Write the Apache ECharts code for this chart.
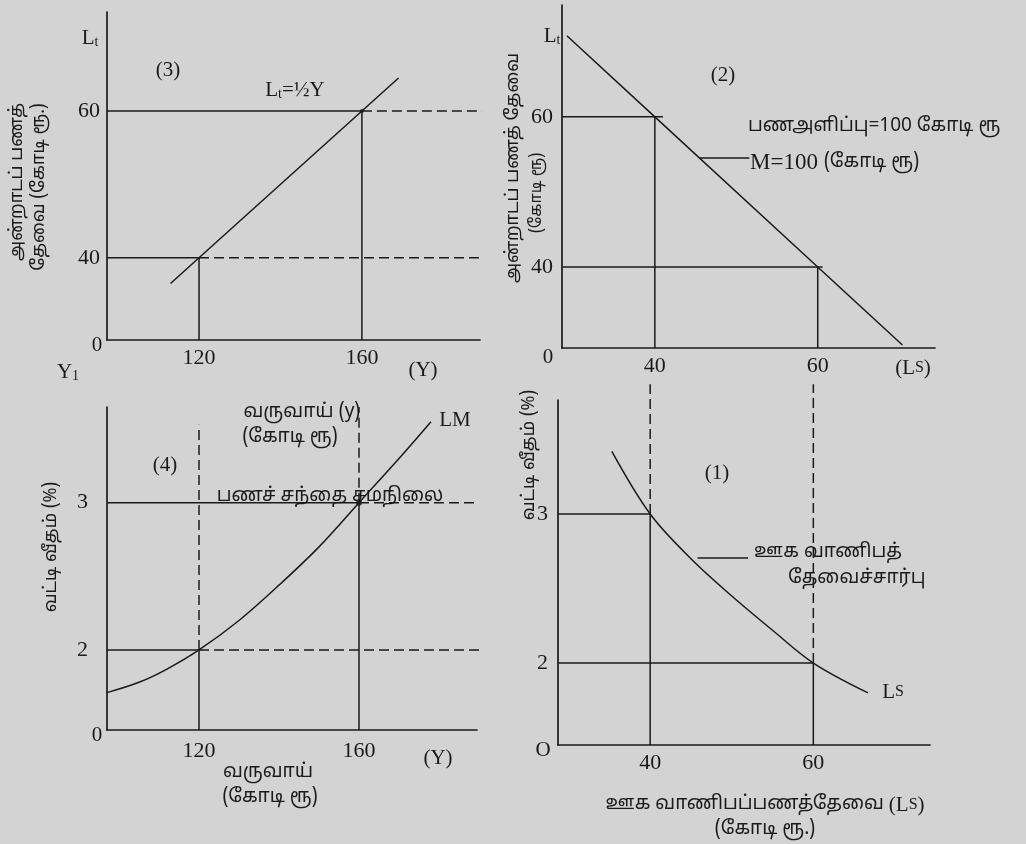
<!DOCTYPE html>
<html>
<head>
<meta charset="utf-8">
<script src="https://cdn.jsdelivr.net/npm/echarts@6/dist/echarts.min.js"></script>
<style>
html,body{margin:0;padding:0;background:#d3d3d3;}
#chart{width:1026px;height:844px;}
</style>
</head>
<body>
<div id="chart"></div>
<script>
// ---------- DATA ----------
// Panel (3): transaction demand for money  L_t = ½Y
const incomeTicks = [120, 160];
const ltTicks = [40, 60];
const ltLineY = [113, 120, 160, 169];
const ltLineLt = [36.5, 40, 60, 64.5];
// Panel (2): money supply M = 100  (L_t + L_s = 100)
const lsTicks = [40, 60];
const mLineLs = [29.2, 40, 60, 70.4];
const mLineLt = [70.8, 60, 40, 29.6];
// Panel (1): speculative demand for money (L_s)
const rTicks = [2, 3];
const lsCurveLs = [35.3, 40, 45, 50, 55, 60, 66.7];
const lsCurveR = [3.42, 3.0, 2.7, 2.45, 2.22, 2.0, 1.8];
// Panel (4): LM curve
const lmY = [97, 105, 112, 120, 130, 140, 150, 160, 170, 178];
const lmR = [1.71, 1.78, 1.87, 2.0, 2.2, 2.44, 2.7, 3.0, 3.3, 3.55];
// Equilibrium chain: income -> L_t -> L_s -> r
const eqIncome = [120, 160];
const eqLt = [40, 60];
const eqLs = [60, 40];
const eqR = [2, 3];

// ---------- STYLE / LAYOUT ----------
const INK = '#1a1a1a';
const SERIF = "'Liberation Serif','DejaVu Serif',serif";
const TAMIL = "'Noto Sans Tamil','Lohit Tamil','Noto Sans','DejaVu Sans',sans-serif";
const LW = 1.5;
const DASH = [10, 5];

// axis ranges (schematic diagram: origin is a broken axis)
const ax = [
  {x:[97.4, 189], y:[28.8, 73.5]},   // (3)
  {x:[28.6, 74.4], y:[29.2, 74.9]},  // (2)
  {x:[28.7, 74.3], y:[1.45, 3.765]}, // (1)
  {x:[97, 189.5], y:[1.456, 3.65]}   // (4)
];
const grids = [
  {left:107, top:12, width:373, height:328},
  {left:562, top:5, width:373, height:343},
  {left:558, top:400, width:372, height:345},
  {left:107, top:407, width:370, height:323}
];
const xTickSets = [incomeTicks, lsTicks, lsTicks, incomeTicks];
const yTickSets = [ltTicks, ltTicks, rTicks, rTicks];
const xMargins = [7, 7, 7, 10];
const yMargins = [7, 9, 10, 19];

const zip = (a, b) => a.map((v, i) => [v, b[i]]);

function seg(g, pts, dashed, w) {
  return {
    type: 'line', xAxisIndex: g, yAxisIndex: g, data: pts, symbol: 'none',
    clip: false, silent: true, animation: false,
    lineStyle: {color: INK, width: w || LW, type: dashed ? DASH : 'solid'}
  };
}
function curve(g, xs, ys, smooth) {
  const s = seg(g, zip(xs, ys), false, 1.5);
  s.smooth = smooth;
  return s;
}

const series = [];
// ----- Panel (3)
const [y120, y160] = eqIncome, [lt40, lt60] = eqLt;
series.push(curve(0, ltLineY, ltLineLt, false));
series.push(seg(0, [[ax[0].x[0], lt60], [y160, lt60]]));
series.push(seg(0, [[y160, lt60], [194, lt60]], true));
series.push(seg(0, [[ax[0].x[0], lt40], [y120, lt40]]));
series.push(seg(0, [[y120, lt40], [192, lt40]], true));
series.push(seg(0, [[y120, ax[0].y[0]], [y120, lt40]]));
series.push(seg(0, [[y160, ax[0].y[0]], [y160, lt60]]));
// ----- Panel (2)
const [ls60, ls40] = eqLs;
series.push(curve(1, mLineLs, mLineLt, false));
series.push(seg(1, [[ax[1].x[0], lt60], [ls40 + 1, lt60]]));
series.push(seg(1, [[ax[1].x[0], lt40], [ls60 + 0.6, lt40]]));
series.push(seg(1, [[ls40, ax[1].y[0]], [ls40, lt60]]));
series.push(seg(1, [[ls60, ax[1].y[0]], [ls60, lt40]]));
series.push(seg(1, [[45.5, 54.5], [51.6, 54.5]]));  // leader to "M=100"
// ----- Panel (1)
const [r2, r3] = eqR;
series.push(curve(2, lsCurveLs, lsCurveR, 0.35));
series.push(seg(2, [[ax[2].x[0], r3], [ls40, r3]]));
series.push(seg(2, [[ax[2].x[0], r2], [ls60, r2]]));
series.push(seg(2, [[ls40, ax[2].y[0]], [ls40, r3]]));
series.push(seg(2, [[ls60, ax[2].y[0]], [ls60, r2]]));
series.push(seg(2, [[ls40, r3], [ls40, 3.87]], true));
series.push(seg(2, [[ls60, r2], [ls60, 3.87]], true));
series.push(seg(2, [[45.8, 2.705], [52.0, 2.705]]));  // leader to label
// ----- Panel (4)
series.push(curve(3, lmY, lmR, 0.35));
series.push(seg(3, [[ax[3].x[0], r3], [y160, r3]]));
series.push(seg(3, [[y160, r3], [194.5, r3]], true));
series.push(seg(3, [[ax[3].x[0], r2], [y120, r2]]));
series.push(seg(3, [[y120, r2], [192.2, r2]], true));
series.push(seg(3, [[y120, ax[3].y[0]], [y120, r2]]));
series.push(seg(3, [[y120, r2], [y120, 3.53]], true));
series.push(seg(3, [[y160, ax[3].y[0]], [y160, r3]]));
series.push(seg(3, [[y160, r3], [y160, 3.65]], true));
// equilibrium dots
series.push({type:'scatter', xAxisIndex:3, yAxisIndex:3, data:[[y160, r3]], symbolSize:6,
  itemStyle:{color:INK}, silent:true, animation:false});
series.push({type:'scatter', xAxisIndex:0, yAxisIndex:0, data:[[y160, lt60]], symbolSize:4,
  itemStyle:{color:INK}, silent:true, animation:false});

const xAxis = grids.map((g, i) => ({
  type: 'value', gridIndex: i, min: ax[i].x[0], max: ax[i].x[1],
  axisLine: {show: true, lineStyle: {color: INK, width: 1.7}},
  axisTick: {show: false}, splitLine: {show: false},
  axisLabel: {customValues: xTickSets[i], margin: xMargins[i], color: INK,
    fontFamily: SERIF, fontSize: 22}
}));
const yAxis = grids.map((g, i) => ({
  type: 'value', gridIndex: i, min: ax[i].y[0], max: ax[i].y[1],
  axisLine: {show: true, lineStyle: {color: INK, width: 1.7}},
  axisTick: {show: false}, splitLine: {show: false},
  axisLabel: {customValues: yTickSets[i], margin: yMargins[i], color: INK,
    fontFamily: SERIF, fontSize: 22}
}));

// ---------- TEXT ----------
const TS = 19;   // Tamil text size
const richBase = {
  a: {fontFamily: SERIF, fontSize: 21, fill: INK},
  m: {fontFamily: SERIF, fontSize: 23, fill: INK},
  b: {fontFamily: SERIF, fontSize: 14, fill: INK, padding: [8, 0, 0, 0]},
  s: {fontFamily: SERIF, fontSize: 16, fill: INK},
  t: {fontFamily: TAMIL, fontSize: TS, fill: INK}
};
function T(x, y, text, o) {
  o = o || {};
  return {
    type: 'text', x: x, y: y, rotation: o.rot || 0, silent: true,
    style: {
      text: text, fill: INK,
      font: o.font || (o.tamil ? (TS + 'px ' + TAMIL) : ('21px ' + SERIF)),
      align: o.align || 'center', verticalAlign: 'middle', rich: richBase
    }
  };
}
const R = Math.PI / 2;
const T18 = '18px ' + TAMIL;
const texts = [
  // (3)
  T(90, 38, '{a|L}{b|t}'),
  T(168, 70, '(3)'),
  T(295, 90, '{a|L}{b|t}{a|=½Y}'),
  T(18, 182, 'அன்றாடப் பணத்', {rot: R, font: T18}),
  T(40, 187, 'தேவை (கோடி ரூ.)', {rot: R, font: T18}),
  T(97, 345, '0'),
  T(423, 370, '(Y)'),
  T(68, 372, '{a|Y}{b|1}'),
  // (2)
  T(552, 36, '{a|L}{b|t}'),
  T(723, 75, '(2)'),
  T(748, 127, 'பணஅளிப்பு=100 கோடி ரூ', {tamil: true, align: 'left'}),
  T(750, 163, '{m|M=100 }{t|(கோடி ரூ)}', {align: 'left'}),
  T(514, 168, 'அன்றாடப் பணத் தேவை', {rot: R, font: T18}),
  T(538, 193, '(கோடி ரூ)', {rot: R, font: '16px ' + TAMIL}),
  T(548, 357, '0'),
  T(913, 368, '{a|(L}{s|S}{a|)}'),
  // (1)
  T(717, 473, '(1)'),
  T(754, 553, 'ஊக வாணிபத்', {tamil: true, align: 'left'}),
  T(788, 579, 'தேவைச்சார்பு', {tamil: true, align: 'left'}),
  T(893, 692, '{a|L}{s|S}'),
  T(543, 750, 'O'),
  T(530, 455, 'வட்டி வீதம் (%)', {rot: R, font: T18}),
  T(765, 805, '{t|ஊக வாணிபப்பணத்தேவை }{a|(L}{s|S}{a|)}'),
  T(765, 830, '(கோடி ரூ.)', {tamil: true}),
  // (4)
  T(165, 465, '(4)'),
  T(302, 413, '{t|வருவாய் (y)}'),
  T(290, 438, '(கோடி ரூ)', {tamil: true}),
  T(455, 420, 'LM'),
  T(330, 497, 'பணச் சந்தை சமநிலை', {tamil: true}),
  T(52, 547, 'வட்டி வீதம் (%)', {rot: R, font: T18}),
  T(97, 735, '0'),
  T(438, 758, '(Y)'),
  T(268, 773, 'வருவாய்', {tamil: true}),
  T(270, 798, '(கோடி ரூ)', {tamil: true})
];

const chart = echarts.init(document.getElementById('chart'), null, {renderer: 'canvas'});
chart.setOption({
  backgroundColor: '#d3d3d3',
  animation: false,
  grid: grids,
  xAxis: xAxis,
  yAxis: yAxis,
  series: series,
  graphic: {elements: texts}
});
</script>
</body>
</html>
